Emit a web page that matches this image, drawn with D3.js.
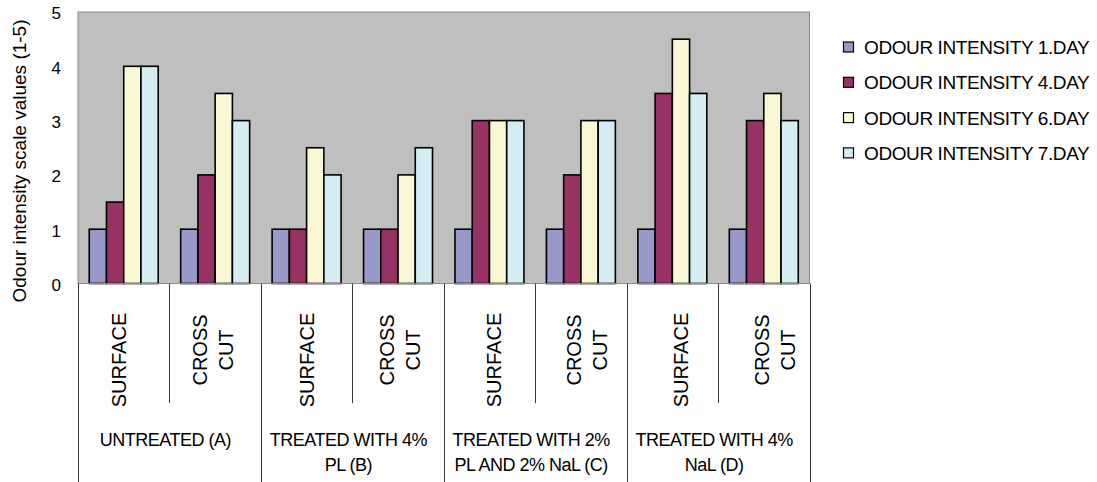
<!DOCTYPE html>
<html><head><meta charset="utf-8">
<script src="https://cdn.jsdelivr.net/npm/d3@7"></script>
<style>
html,body{margin:0;padding:0;background:#fff;}
svg{display:block;font-family:Arial,"Liberation Sans",sans-serif;}
</style></head>
<body><svg id="chart" width="1097" height="482"></svg>
<script>
const groups = ["UNTREATED (A)", "TREATED WITH 4%|PL (B)", "TREATED WITH 2%|PL AND 2% NaL (C)", "TREATED WITH 4%|NaL (D)"];
const subLabels = ["SURFACE", "CROSS|CUT"];
const categories = ["A-SURFACE","A-CROSS CUT","B-SURFACE","B-CROSS CUT","C-SURFACE","C-CROSS CUT","D-SURFACE","D-CROSS CUT"];
const seriesNames = ["ODOUR INTENSITY 1.DAY","ODOUR INTENSITY 4.DAY","ODOUR INTENSITY 6.DAY","ODOUR INTENSITY 7.DAY"];
const day1 = [1, 1, 1, 1, 1, 1, 1, 1];
const day4 = [1.5, 2, 1, 1, 3, 2, 3.5, 3];
const day6 = [4, 3.5, 2.5, 2, 3, 3, 4.5, 3.5];
const day7 = [4, 3, 2, 2.5, 3, 3, 3.5, 3];
const yTicks = [0, 1, 2, 3, 4, 5];
const colors = ["#9898c9", "#993264", "#faf7d4", "#d4ecf3"];
const yTitle = "Odour intensity scale values (1-5)";

const series = [day1, day4, day6, day7];
const svg = d3.select("#chart");
const L = 78, R = 809.5, T = 12, B = 283.5;

const x0 = d3.scaleBand().domain(categories).range([L, R]).paddingInner(0).paddingOuter(0);
const x1 = d3.scaleBand().domain(d3.range(series.length)).range([0, x0.bandwidth()]).paddingInner(0).paddingOuter(0.652);
const y = d3.scaleLinear().domain([0, 5]).range([B, T]);

// plot background
svg.append("rect").attr("x", L).attr("y", T).attr("width", R - L).attr("height", B - T)
  .attr("fill", "#c0bfc0").attr("stroke", "#8a8a8a").attr("stroke-width", 1);

// bars
const data = [];
categories.forEach((c, i) => series.forEach((s, j) => data.push({c, j, v: s[i]})));
svg.append("g").selectAll("rect").data(data).join("rect")
  .attr("x", d => x0(d.c) + x1(d.j))
  .attr("y", d => y(d.v))
  .attr("width", x1.bandwidth())
  .attr("height", d => y(0) - y(d.v))
  .attr("fill", d => colors[d.j])
  .attr("stroke", "#000").attr("stroke-width", 1.6);

// y axis labels
const yAxis = d3.axisLeft(y).tickValues(yTicks).tickSize(0).tickPadding(17).tickFormat(d3.format("d"));
const ya = svg.append("g").attr("transform", `translate(${L},1.5)`).call(yAxis);
ya.select(".domain").remove();
ya.selectAll("text").attr("font-size", 17).attr("fill", "#000").attr("font-family", "Arial,'Liberation Sans',sans-serif");

// x axis line
svg.append("line").attr("x1", L).attr("x2", R).attr("y1", B).attr("y2", B).attr("stroke", "#8a8a8a");

// divider lines in label area
categories.concat(["end"]).forEach((c, i) => {
  const xx = Math.round(c === "end" ? R : x0(c)) + 0.5;
  svg.append("line").attr("x1", xx).attr("x2", xx).attr("y1", B)
    .attr("y2", i % 2 === 0 ? 482 : 403).attr("stroke", "#3a3a3a").attr("stroke-width", 1);
});

// sub labels (rotated)
categories.forEach((c, i) => {
  const lines = subLabels[i % 2].split("|");
  const cx = x0(c) + x0.bandwidth() / 2 - 4.5 + 2.15 * i;
  const cy = lines.length === 1 ? 360 : 350;
  const lh = 26;
  lines.forEach((t, k) => {
    const gx = cx + (k - (lines.length - 1) / 2) * lh; // glyph center
    svg.append("text").attr("transform", `translate(${gx + 7.2},${cy}) rotate(-90)`)
      .attr("text-anchor", "middle").attr("font-size", 20).attr("fill", "#000").text(t);
  });
});

// group labels
groups.forEach((g, gi) => {
  const gx = (x0(categories[gi * 2]) + x0(categories[gi * 2 + 1]) + x0.bandwidth()) / 2;
  g.split("|").forEach((t, k) => {
    svg.append("text").attr("x", gx - 4).attr("y", 446 + k * 25)
      .attr("text-anchor", "middle").attr("font-size", 18).attr("letter-spacing", -0.5)
      .attr("fill", "#000").text(t);
  });
});

// y title
svg.append("text").attr("transform", `translate(26,161) rotate(-90)`)
  .attr("text-anchor", "middle").attr("font-size", 19)
  .attr("fill", "#000").text(yTitle);

// legend
const lg = svg.append("g");
seriesNames.forEach((n, j) => {
  const by = 54 + j * 35.3;
  lg.append("rect").attr("x", 843.5).attr("y", by - 12).attr("width", 10).attr("height", 10)
    .attr("fill", colors[j]).attr("stroke", "#000").attr("stroke-width", 1.2);
  lg.append("text").attr("x", 864).attr("y", by).attr("font-size", 19).attr("letter-spacing", -0.4)
    .attr("fill", "#000").text(n);
});
</script>
</body></html>
